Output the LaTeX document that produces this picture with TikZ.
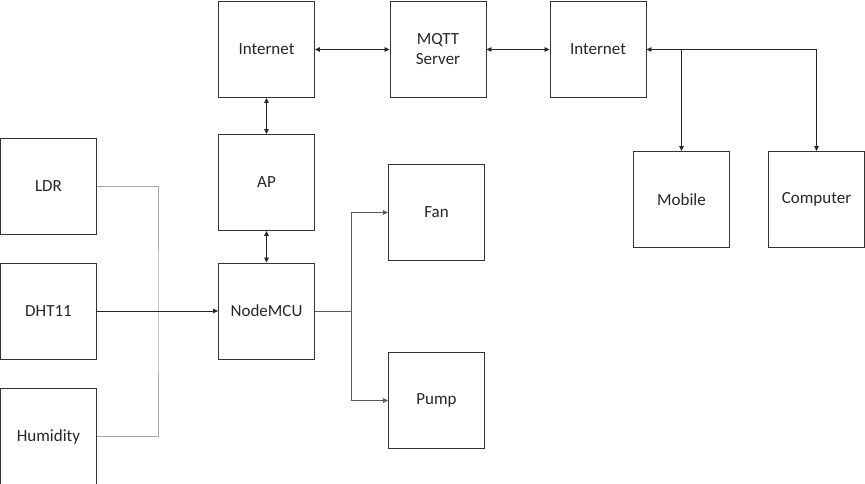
\documentclass[tikz,border=0pt]{standalone}
\usepackage{fontspec}
\setmainfont{Carlito}
\usetikzlibrary{arrows.meta}
\begin{document}
\begin{tikzpicture}[x=1pt,y=-1pt,
  box/.style={draw=black!80,line width=0.9pt,minimum width=96pt,minimum height=96pt,inner sep=0pt,align=center,font=\fontsize{17}{20}\selectfont,text=black!85},
  conn/.style={line width=0.8pt,draw=black!85},
  soft/.style={line width=0.9pt,draw=black!35},
  mid/.style={line width=0.8pt,draw=black!65},
  tip/.style={-{Triangle[length=5pt,width=4.5pt]}},
  tips/.style={{Triangle[length=5pt,width=4.5pt]}-{Triangle[length=5pt,width=4.5pt]}}]
\useasboundingbox (0,0) rectangle (865,484);
\node[box] (ldr) at (48.5,186) {LDR};
\node[box] (dht) at (48.5,311) {DHT11};
\node[box] (hum) at (48.5,436.5) {Humidity};
\node[box] (inet1) at (266.5,49.5) {Internet};
\node[box] (ap) at (266.5,182.5) {AP};
\node[box] (mcu) at (266.5,311) {NodeMCU};
\node[box] (mqtt) at (438,49.5) {MQTT\\Server};
\node[box] (inet2) at (598,49.5) {Internet};
\node[box] (mob) at (681.5,199.5) {Mobile};
\node[box] (comp) at (816.5,199.5) {Computer};
\node[box] (fan) at (436.5,212.5) {Fan};
\node[box] (pump) at (436.5,400.5) {Pump};
\coordinate (j) at (158,311);
\draw[soft] (ldr.east) -| (j) |- (hum.east);
\draw[conn,tip] (dht.east) -- (mcu.west);
\draw[conn,tips] (inet1.east) -- (mqtt.west);
\draw[conn,tips] (mqtt.east) -- (inet2.west);
\draw[conn,tips] (inet1.south) -- (ap.north);
\draw[conn,tips] (ap.south) -- (mcu.north);
\coordinate (f) at (351,311);
\draw[mid] (mcu.east) -- (f);
\draw[mid,tip] (f) |- (fan.west);
\draw[mid,tip] (f) |- (pump.west);
\coordinate (m) at (681.5,49.5);
\draw[conn,tips] (inet2.east) -| (comp.north);
\draw[conn,tip] (m) -- (mob.north);
\end{tikzpicture}
\end{document}
